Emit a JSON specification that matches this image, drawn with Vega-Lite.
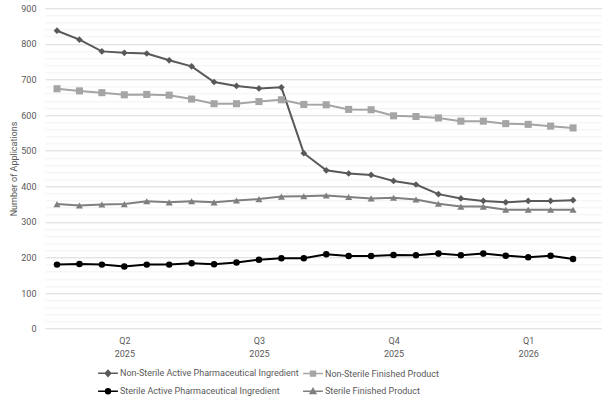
{
  "$schema": "https://vega.github.io/schema/vega-lite/v6.json",
  "width": 557,
  "height": 320.4,
  "autosize": {"type": "none"},
  "padding": {"left": 45, "top": 8.3, "right": 0, "bottom": 71.3},
  "background": "white",
  "config": {"font": "Roboto", "view": {"stroke": null}},
  "data": {"values": [
    {"idx": 0, "series": "Non-Sterile Active Pharmaceutical Ingredient", "value": 837},
    {"idx": 1, "series": "Non-Sterile Active Pharmaceutical Ingredient", "value": 812},
    {"idx": 2, "series": "Non-Sterile Active Pharmaceutical Ingredient", "value": 779},
    {"idx": 3, "series": "Non-Sterile Active Pharmaceutical Ingredient", "value": 775},
    {"idx": 4, "series": "Non-Sterile Active Pharmaceutical Ingredient", "value": 773},
    {"idx": 5, "series": "Non-Sterile Active Pharmaceutical Ingredient", "value": 754},
    {"idx": 6, "series": "Non-Sterile Active Pharmaceutical Ingredient", "value": 737},
    {"idx": 7, "series": "Non-Sterile Active Pharmaceutical Ingredient", "value": 693},
    {"idx": 8, "series": "Non-Sterile Active Pharmaceutical Ingredient", "value": 682},
    {"idx": 9, "series": "Non-Sterile Active Pharmaceutical Ingredient", "value": 675},
    {"idx": 10, "series": "Non-Sterile Active Pharmaceutical Ingredient", "value": 678},
    {"idx": 11, "series": "Non-Sterile Active Pharmaceutical Ingredient", "value": 493},
    {"idx": 12, "series": "Non-Sterile Active Pharmaceutical Ingredient", "value": 445},
    {"idx": 13, "series": "Non-Sterile Active Pharmaceutical Ingredient", "value": 436},
    {"idx": 14, "series": "Non-Sterile Active Pharmaceutical Ingredient", "value": 432},
    {"idx": 15, "series": "Non-Sterile Active Pharmaceutical Ingredient", "value": 415},
    {"idx": 16, "series": "Non-Sterile Active Pharmaceutical Ingredient", "value": 405},
    {"idx": 17, "series": "Non-Sterile Active Pharmaceutical Ingredient", "value": 378},
    {"idx": 18, "series": "Non-Sterile Active Pharmaceutical Ingredient", "value": 366},
    {"idx": 19, "series": "Non-Sterile Active Pharmaceutical Ingredient", "value": 359},
    {"idx": 20, "series": "Non-Sterile Active Pharmaceutical Ingredient", "value": 355},
    {"idx": 21, "series": "Non-Sterile Active Pharmaceutical Ingredient", "value": 359},
    {"idx": 22, "series": "Non-Sterile Active Pharmaceutical Ingredient", "value": 359},
    {"idx": 23, "series": "Non-Sterile Active Pharmaceutical Ingredient", "value": 361},
    {"idx": 0, "series": "Non-Sterile Finished Product", "value": 674},
    {"idx": 1, "series": "Non-Sterile Finished Product", "value": 668},
    {"idx": 2, "series": "Non-Sterile Finished Product", "value": 663},
    {"idx": 3, "series": "Non-Sterile Finished Product", "value": 657},
    {"idx": 4, "series": "Non-Sterile Finished Product", "value": 658},
    {"idx": 5, "series": "Non-Sterile Finished Product", "value": 656},
    {"idx": 6, "series": "Non-Sterile Finished Product", "value": 645},
    {"idx": 7, "series": "Non-Sterile Finished Product", "value": 632},
    {"idx": 8, "series": "Non-Sterile Finished Product", "value": 632},
    {"idx": 9, "series": "Non-Sterile Finished Product", "value": 638},
    {"idx": 10, "series": "Non-Sterile Finished Product", "value": 643},
    {"idx": 11, "series": "Non-Sterile Finished Product", "value": 630},
    {"idx": 12, "series": "Non-Sterile Finished Product", "value": 629},
    {"idx": 13, "series": "Non-Sterile Finished Product", "value": 616},
    {"idx": 14, "series": "Non-Sterile Finished Product", "value": 615},
    {"idx": 15, "series": "Non-Sterile Finished Product", "value": 598},
    {"idx": 16, "series": "Non-Sterile Finished Product", "value": 596},
    {"idx": 17, "series": "Non-Sterile Finished Product", "value": 592},
    {"idx": 18, "series": "Non-Sterile Finished Product", "value": 583},
    {"idx": 19, "series": "Non-Sterile Finished Product", "value": 583},
    {"idx": 20, "series": "Non-Sterile Finished Product", "value": 576},
    {"idx": 21, "series": "Non-Sterile Finished Product", "value": 574},
    {"idx": 22, "series": "Non-Sterile Finished Product", "value": 569},
    {"idx": 23, "series": "Non-Sterile Finished Product", "value": 564},
    {"idx": 0, "series": "Sterile Active Pharmaceutical Ingredient", "value": 180},
    {"idx": 1, "series": "Sterile Active Pharmaceutical Ingredient", "value": 182},
    {"idx": 2, "series": "Sterile Active Pharmaceutical Ingredient", "value": 180},
    {"idx": 3, "series": "Sterile Active Pharmaceutical Ingredient", "value": 175},
    {"idx": 4, "series": "Sterile Active Pharmaceutical Ingredient", "value": 180},
    {"idx": 5, "series": "Sterile Active Pharmaceutical Ingredient", "value": 180},
    {"idx": 6, "series": "Sterile Active Pharmaceutical Ingredient", "value": 184},
    {"idx": 7, "series": "Sterile Active Pharmaceutical Ingredient", "value": 181},
    {"idx": 8, "series": "Sterile Active Pharmaceutical Ingredient", "value": 186},
    {"idx": 9, "series": "Sterile Active Pharmaceutical Ingredient", "value": 194},
    {"idx": 10, "series": "Sterile Active Pharmaceutical Ingredient", "value": 198},
    {"idx": 11, "series": "Sterile Active Pharmaceutical Ingredient", "value": 198},
    {"idx": 12, "series": "Sterile Active Pharmaceutical Ingredient", "value": 209},
    {"idx": 13, "series": "Sterile Active Pharmaceutical Ingredient", "value": 204},
    {"idx": 14, "series": "Sterile Active Pharmaceutical Ingredient", "value": 204},
    {"idx": 15, "series": "Sterile Active Pharmaceutical Ingredient", "value": 207},
    {"idx": 16, "series": "Sterile Active Pharmaceutical Ingredient", "value": 206},
    {"idx": 17, "series": "Sterile Active Pharmaceutical Ingredient", "value": 211},
    {"idx": 18, "series": "Sterile Active Pharmaceutical Ingredient", "value": 206},
    {"idx": 19, "series": "Sterile Active Pharmaceutical Ingredient", "value": 211},
    {"idx": 20, "series": "Sterile Active Pharmaceutical Ingredient", "value": 205},
    {"idx": 21, "series": "Sterile Active Pharmaceutical Ingredient", "value": 201},
    {"idx": 22, "series": "Sterile Active Pharmaceutical Ingredient", "value": 205},
    {"idx": 23, "series": "Sterile Active Pharmaceutical Ingredient", "value": 196},
    {"idx": 0, "series": "Sterile Finished Product", "value": 350},
    {"idx": 1, "series": "Sterile Finished Product", "value": 346},
    {"idx": 2, "series": "Sterile Finished Product", "value": 349},
    {"idx": 3, "series": "Sterile Finished Product", "value": 350},
    {"idx": 4, "series": "Sterile Finished Product", "value": 358},
    {"idx": 5, "series": "Sterile Finished Product", "value": 355},
    {"idx": 6, "series": "Sterile Finished Product", "value": 358},
    {"idx": 7, "series": "Sterile Finished Product", "value": 355},
    {"idx": 8, "series": "Sterile Finished Product", "value": 360},
    {"idx": 9, "series": "Sterile Finished Product", "value": 364},
    {"idx": 10, "series": "Sterile Finished Product", "value": 371},
    {"idx": 11, "series": "Sterile Finished Product", "value": 372},
    {"idx": 12, "series": "Sterile Finished Product", "value": 374},
    {"idx": 13, "series": "Sterile Finished Product", "value": 370},
    {"idx": 14, "series": "Sterile Finished Product", "value": 366},
    {"idx": 15, "series": "Sterile Finished Product", "value": 368},
    {"idx": 16, "series": "Sterile Finished Product", "value": 363},
    {"idx": 17, "series": "Sterile Finished Product", "value": 351},
    {"idx": 18, "series": "Sterile Finished Product", "value": 343},
    {"idx": 19, "series": "Sterile Finished Product", "value": 343},
    {"idx": 20, "series": "Sterile Finished Product", "value": 334},
    {"idx": 21, "series": "Sterile Finished Product", "value": 334},
    {"idx": 22, "series": "Sterile Finished Product", "value": 334},
    {"idx": 23, "series": "Sterile Finished Product", "value": 334}
  ]},
  "encoding": {
    "x": {
      "field": "idx", "type": "quantitative",
      "scale": {"domain": [-0.535, 24.29], "nice": false, "zero": false},
      "axis": {
        "title": null, "values": [3, 9, 15, 21],
        "labelExpr": "datum.value == 3 ? ['Q2', '2025'] : datum.value == 9 ? ['Q3', '2025'] : datum.value == 15 ? ['Q4', '2025'] : ['Q1', '2026']",
        "grid": false, "ticks": false, "domain": false,
        "labelPadding": 8, "labelColor": "#595959", "labelFontSize": 9,
        "labelLineHeight": 13, "labelFlush": false, "labelOverlap": false
      }
    },
    "y": {
      "field": "value", "type": "quantitative",
      "scale": {"domain": [0, 900], "nice": false},
      "axis": {
        "title": "Number of Applications",
        "values": [0, 20, 40, 60, 80, 100, 120, 140, 160, 180, 200, 220, 240, 260, 280, 300, 320, 340, 360, 380, 400, 420, 440, 460, 480, 500, 520, 540, 560, 580, 600, 620, 640, 660, 680, 700, 720, 740, 760, 780, 800, 820, 840, 860, 880, 900],
        "labelExpr": "datum.value % 100 === 0 ? datum.label : ''",
        "ticks": false, "domain": false, "grid": true,
        "gridColor": {"condition": {"test": "datum.value % 100 === 0", "value": "#d9d9d9"}, "value": "#f2f2f2"},
        "labelColor": "#595959", "labelFontSize": 9, "labelPadding": 9,
        "labelOverlap": false, "labelFlush": false,
        "titleColor": "#595959", "titleFontSize": 9, "titleFontWeight": "normal", "titlePadding": 2
      }
    },
    "color": {
      "field": "series", "type": "nominal",
      "scale": {
        "domain": ["Non-Sterile Active Pharmaceutical Ingredient", "Non-Sterile Finished Product", "Sterile Active Pharmaceutical Ingredient", "Sterile Finished Product"],
        "range": ["#595959", "#a5a5a5", "#000000", "#7f7f7f"]
      },
      "legend": {
        "title": null, "orient": "none", "legendX": 53, "legendY": 355,
        "columns": 2, "direction": "horizontal", "symbolSize": 324, "labelFontSize": 9, "labelColor": "#595959",
        "columnPadding": 1, "rowPadding": 2, "labelOffset": 2, "labelLimit": 300,
        "encode": {
          "symbols": {
            "update": {
              "shape": {"signal": "datum.value === 'Non-Sterile Active Pharmaceutical Ingredient' ? 'M-1.1,0L1.1,0M0,-0.33L0.3,0L0,0.33L-0.3,0Z' : datum.value === 'Non-Sterile Finished Product' ? 'M-1.1,0L1.1,0M-0.27,-0.27L0.27,-0.27L0.27,0.27L-0.27,0.27Z' : datum.value === 'Sterile Active Pharmaceutical Ingredient' ? 'M-1.1,0L1.1,0M-0.27,0A0.27,0.27 0 1,0 0.27,0A0.27,0.27 0 1,0 -0.27,0Z' : 'M-1.1,0L1.1,0M0,-0.3L0.32,0.25L-0.32,0.25Z'"},
              "stroke": {"signal": "scale('color', datum.value)"},
              "fill": {"signal": "scale('color', datum.value)"},
              "strokeWidth": {"value": 1.5},
              "opacity": {"value": 1},
              "fillOpacity": {"value": 1}
            }
          }
        }
      }
    }
  },
  "layer": [
    {"mark": {"type": "line", "strokeWidth": 2}},
    {
      "transform": [{"filter": "datum.series === 'Non-Sterile Active Pharmaceutical Ingredient'"}],
      "mark": {"type": "point", "filled": true, "opacity": 1, "shape": "diamond", "size": 45}
    },
    {
      "transform": [{"filter": "datum.series === 'Non-Sterile Finished Product'"}],
      "mark": {"type": "point", "filled": true, "opacity": 1, "shape": "square", "size": 50}
    },
    {
      "transform": [{"filter": "datum.series === 'Sterile Active Pharmaceutical Ingredient'"}],
      "mark": {"type": "point", "filled": true, "opacity": 1, "shape": "circle", "size": 42}
    },
    {
      "transform": [{"filter": "datum.series === 'Sterile Finished Product'"}],
      "mark": {"type": "point", "filled": true, "opacity": 1, "shape": "triangle-up", "size": 50}
    }
  ]
}
